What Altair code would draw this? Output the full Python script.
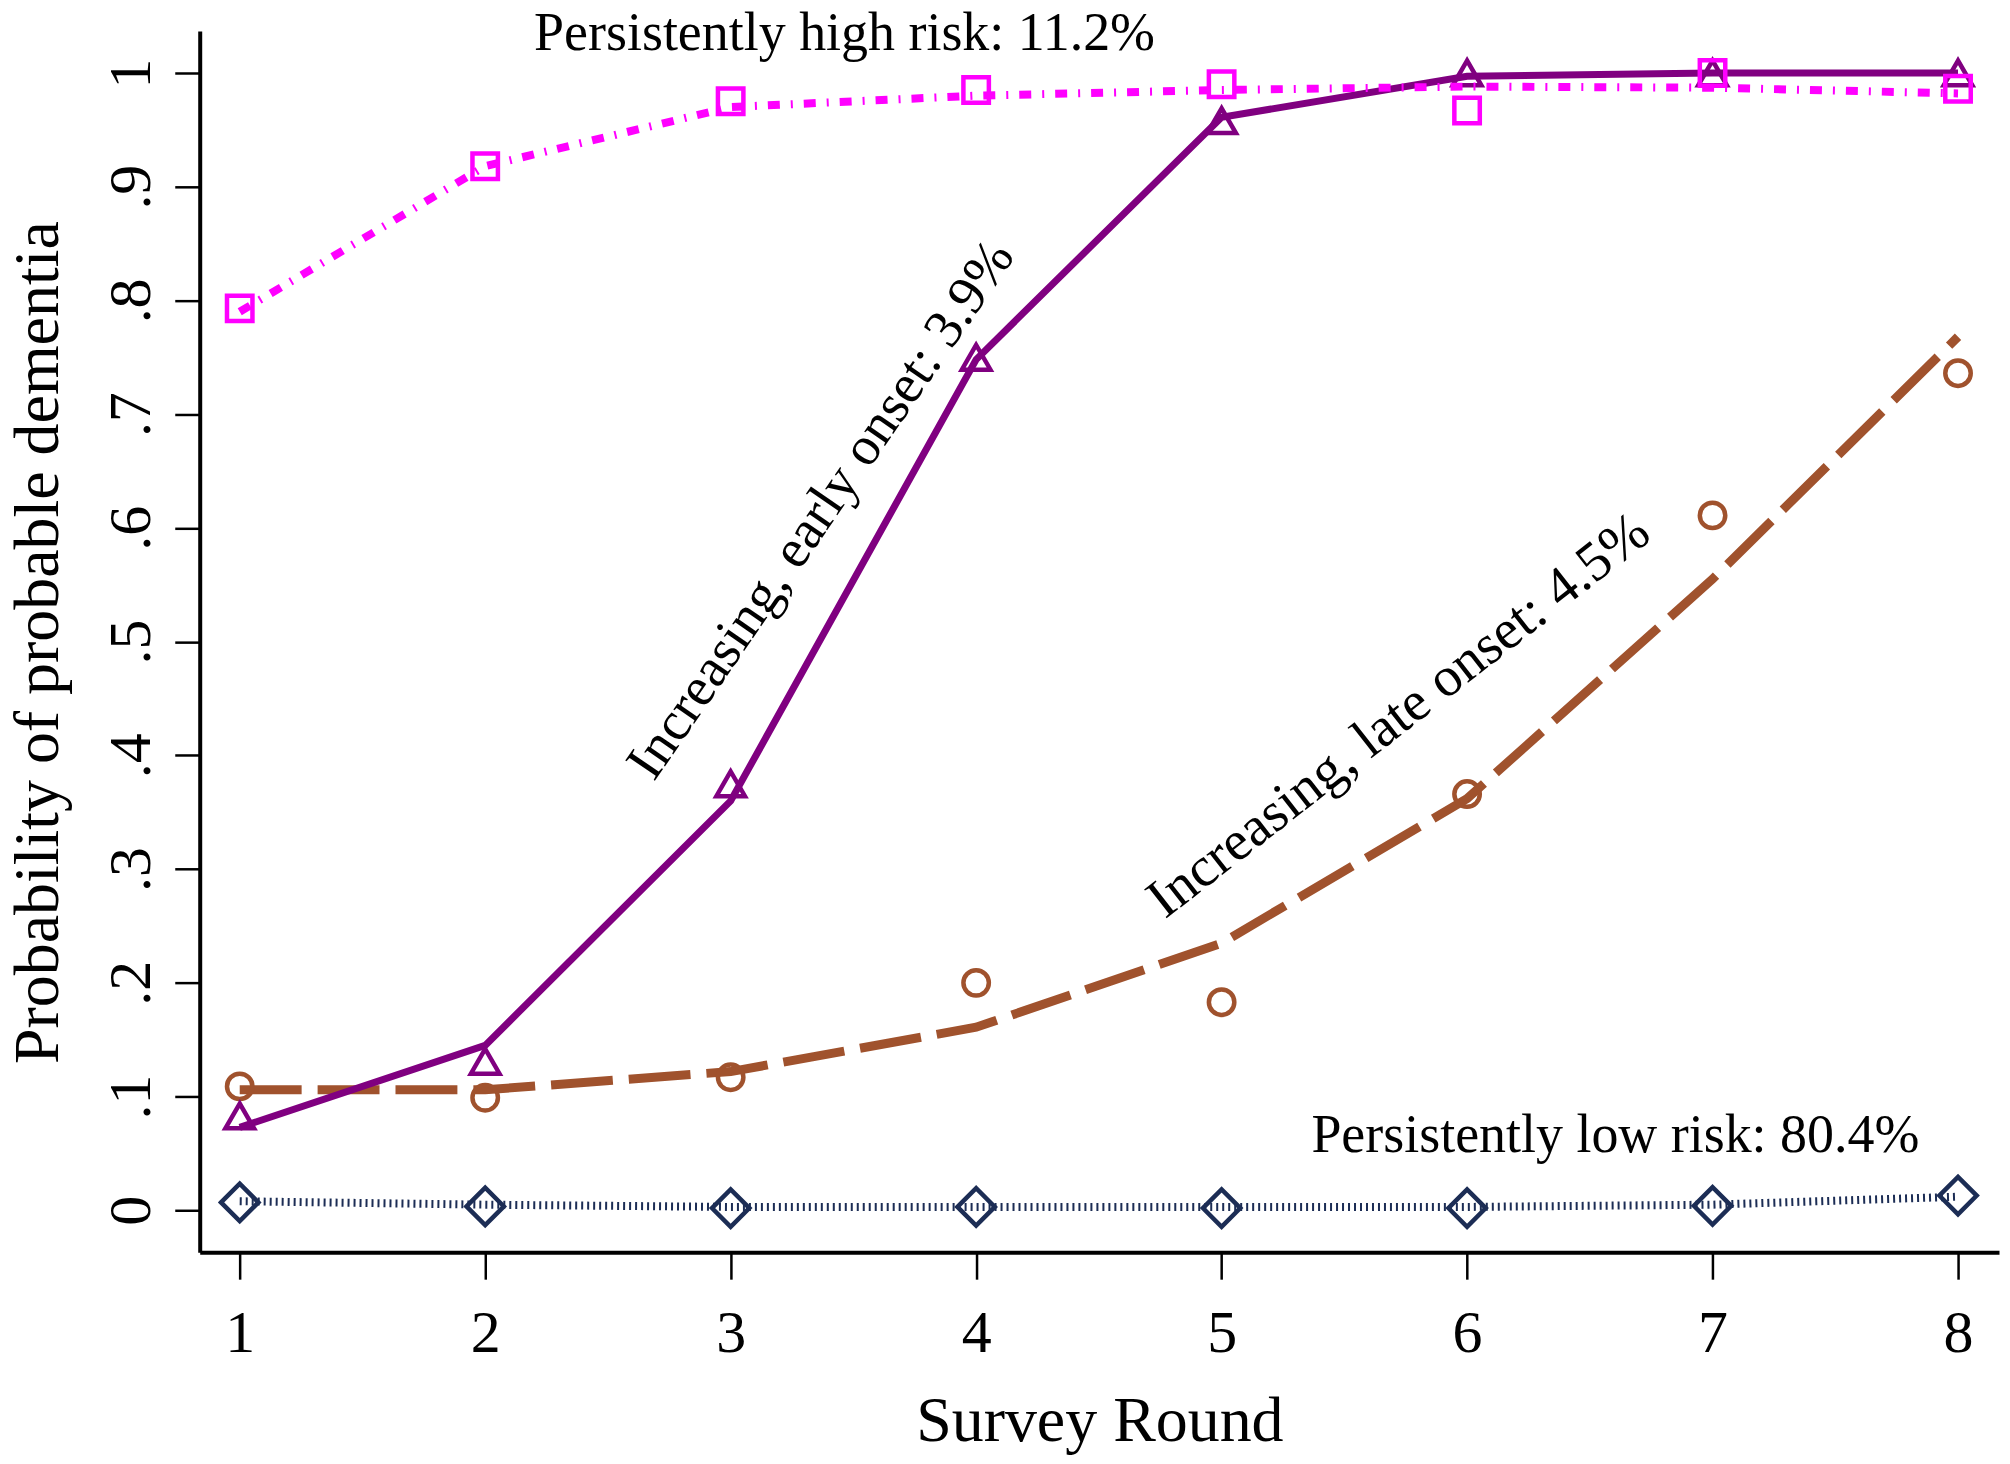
import altair as alt
import pandas as pd

# ---- data ----
rounds = [1, 2, 3, 4, 5, 6, 7, 8]
high_obs = [0.793, 0.918, 0.975, 0.985, 0.990, 0.967, 1.000, 0.986]
high_fit = [0.790, 0.918, 0.970, 0.980, 0.985, 0.988, 0.987, 0.982]
early_obs = [0.083, 0.131, 0.375, 0.750, 0.958, 1.000, 1.000, 1.000]
early_fit = [0.073, 0.145, 0.360, 0.748, 0.961, 0.997, 1.000, 1.000]
late_obs = [0.109, 0.099, 0.117, 0.200, 0.183, 0.366, 0.611, 0.736]
late_fit = [0.106, 0.106, 0.122, 0.161, 0.235, 0.362, 0.555, 0.768]
low_obs = [0.007, 0.0035, 0.002, 0.003, 0.002, 0.002, 0.004, 0.013]
low_fit = [0.008, 0.005, 0.003, 0.003, 0.003, 0.003, 0.005, 0.012]

y_ticks = [0, 0.1, 0.2, 0.3, 0.4, 0.5, 0.6, 0.7, 0.8, 0.9, 1]
x_ticks = [1, 2, 3, 4, 5, 6, 7, 8]

labels = ["Persistently high risk: 11.2%", "Persistently low risk: 80.4%",
          "Increasing, early onset: 3.9%", "Increasing, late onset: 4.5%"]

df = pd.DataFrame({
    "round": rounds,
    "high_obs": high_obs, "high_fit": high_fit,
    "early_obs": early_obs, "early_fit": early_fit,
    "late_obs": late_obs, "late_fit": late_fit,
    "low_obs": low_obs, "low_fit": low_fit,
})

FONT = "Liberation Serif"

xs = alt.Scale(domain=[0.837, 8.167], nice=False, zero=False)
ys = alt.Scale(domain=[-0.0368, 1.0368], nice=False, zero=False)

xaxis = alt.Axis(
    title="Survey Round", values=x_ticks, grid=False,
    domainColor="black", domainWidth=4, tickColor="black", tickWidth=2.5, tickSize=27,
    labelFont=FONT, labelFontSize=60, labelColor="black", labelPadding=25,
    labelBaseline="top", labelFlush=False, labelOverlap=False,
    titleFont=FONT, titleFontSize=64, titleFontWeight="normal", titleColor="black",
    titleBaseline="alphabetic", titleAlign="center", titleX=901, titleY=189,
)
yaxis = alt.Axis(
    title="Probability of probable dementia", values=y_ticks, grid=False,
    domainColor="black", domainWidth=4, tickColor="black", tickWidth=2.5, tickSize=25,
    labelFont=FONT, labelFontSize=60, labelColor="black", labelPadding=25,
    labelAngle=270, labelAlign="center", labelBaseline="alphabetic",
    labelFlush=False, labelOverlap=False,
    labelExpr="datum.value == 0 ? '0' : datum.value == 1 ? '1' : replace(format(datum.value, '.1f'), '0.', '.')",
    titleFont=FONT, titleFontSize=64, titleFontWeight="normal", titleColor="black",
    titleAngle=270, titleBaseline="alphabetic", titleAlign="center", titleX=-142, titleY=612,
)

base = alt.Chart(df)


def series(obs, fit, color, dash, width, shape, size):
    line_kw = dict(color=color, strokeWidth=width, strokeCap="butt", strokeJoin="miter")
    if dash:
        line_kw["strokeDash"] = dash
    line = base.mark_line(**line_kw).encode(
        x=alt.X("round:Q", scale=xs, axis=xaxis),
        y=alt.Y(f"{fit}:Q", scale=ys, axis=yaxis),
    )
    pts = base.mark_point(shape=shape, size=size, filled=False, color=color,
                          strokeWidth=4.5, opacity=1).encode(
        x=alt.X("round:Q", scale=xs, axis=xaxis),
        y=alt.Y(f"{obs}:Q", scale=ys, axis=yaxis),
    )
    return [line, pts]


NAVY = "#1C2D55"
SIENNA = "#A0522D"
PURPLE = "#800080"
MAGENTA = "#FF00FF"

layers = []
layers += series("low_obs", "low_fit", NAVY, [2, 4], 8, "diamond", 1400)
layers += series("late_obs", "late_fit", SIENNA, [62, 16], 9, "circle", 650)
layers += series("early_obs", "early_fit", PURPLE, None, 7, "triangle-up", 820)
layers += series("high_obs", "high_fit", MAGENTA, [12, 11, 2, 11], 8, "square", 650)


def annot(text, x, y, angle, baseline, size):
    d = pd.DataFrame({"x": [x], "y": [y], "t": [text]})
    kw = dict(font=FONT, fontSize=size, align="center", baseline=baseline, color="black")
    if angle:
        kw["angle"] = angle
    return alt.Chart(d).mark_text(**kw).encode(
        x=alt.X("x:Q", scale=xs, axis=xaxis),
        y=alt.Y("y:Q", scale=ys, axis=yaxis),
        text="t:N",
    )


layers.append(annot(labels[0], 3.464, 1.020, 0, "alphabetic", 54))
layers.append(annot(labels[1], 6.604, 0.051, 0, "alphabetic", 54))
layers.append(annot(labels[2], 3.367, 0.616, 304.5, "middle", 55))
layers.append(annot(labels[3], 5.721, 0.435, 322, "middle", 56))

chart = alt.layer(*layers).properties(
    width=1802, height=1223,
    autosize=alt.AutoSizeParams(type="none"),
    padding={"left": 192, "top": 22, "right": 3, "bottom": 205},
    background="white",
).configure_view(stroke=None)

chart.save("out.html", embed_options={"renderer": "svg", "actions": False})
